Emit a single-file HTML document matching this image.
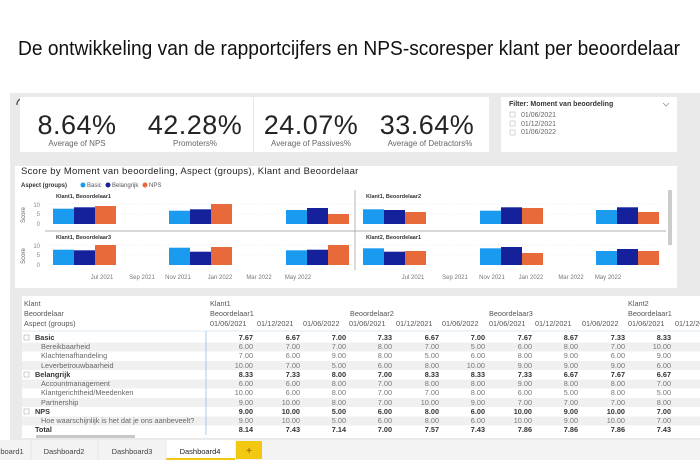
<!DOCTYPE html>
<html><head><meta charset="utf-8"><style>
html,body{margin:0;padding:0;background:#fff;}
svg{display:block;font-family:"Liberation Sans",sans-serif;}
</style></head><body>
<svg width="700" height="470" viewBox="0 0 700 470" xmlns="http://www.w3.org/2000/svg">
<rect width="700" height="470" fill="#fff"/>
<text x="18" y="55" font-size="20" fill="#111" textLength="662" lengthAdjust="spacingAndGlyphs">De ontwikkeling van de rapportcijfers en NPS-scoresper klant per beoordelaar</text>
<!-- dashboard bg -->
<rect x="10" y="93" width="690" height="348" fill="#eaeaea"/>
<path d="M17 105 a6 6 0 0 1 10 -5" stroke="#444" stroke-width="1.2" fill="none"/>
<!-- KPI cards -->
<rect x="20" y="97" width="233" height="55" fill="#fff"/>
<rect x="254" y="97" width="235" height="55" fill="#fff"/>
<line x1="253.5" y1="97" x2="253.5" y2="152" stroke="#e6e6e6"/>
<g font-size="27" fill="#252423" text-anchor="middle" letter-spacing="0.5">
<text x="77" y="134">8.64%</text><text x="195" y="134">42.28%</text><text x="311" y="134">24.07%</text><text x="427" y="134">33.64%</text></g>
<g font-size="8" fill="#666" text-anchor="middle">
<text x="77" y="146">Average of NPS</text><text x="195" y="146">Promoters%</text><text x="311" y="146">Average of Passives%</text><text x="430" y="146">Average of Detractors%</text></g>
<!-- filter -->
<rect x="501" y="97" width="176" height="55" fill="#fff"/>
<text x="509" y="106" font-size="7" font-weight="bold" fill="#333">Filter: Moment van beoordeling</text>
<path d="M663 103 l3 3 l3 -3" stroke="#888" fill="none" stroke-width="0.7"/>
<g font-size="7" fill="#666"><rect x="510" y="112" width="5" height="5" fill="none" stroke="#bbb" stroke-width="0.6"/><text x="521" y="117">01/06/2021</text>
<rect x="510" y="121" width="5" height="5" fill="none" stroke="#bbb" stroke-width="0.6"/><text x="521" y="126">01/12/2021</text>
<rect x="510" y="130" width="5" height="5" fill="none" stroke="#bbb" stroke-width="0.6"/><text x="521" y="134">01/06/2022</text></g>
<!-- chart panel -->
<rect x="15" y="166" width="662" height="122" fill="#fff"/>
<text x="21" y="174" font-size="9.5" fill="#252423" letter-spacing="0.3">Score by Moment van beoordeling, Aspect (groups), Klant and Beoordelaar</text>
<text x="21" y="187" font-size="6" font-weight="bold" fill="#333">Aspect (groups)</text>
<circle cx="83" cy="185" r="2.5" fill="#1a9bf0"/><text x="87" y="187" font-size="6" fill="#555">Basic</text>
<circle cx="108" cy="185" r="2.5" fill="#14219a"/><text x="112" y="187" font-size="6" fill="#555">Belangrijk</text>
<circle cx="145" cy="185" r="2.5" fill="#e8693a"/><text x="149" y="187" font-size="6" fill="#555">NPS</text>
<g font-size="5.5" font-weight="bold" fill="#333">
<text x="56" y="198">Klant1, Beoordelaar1</text><text x="366" y="198">Klant1, Beoordelaar2</text>
<text x="56" y="239">Klant1, Beoordelaar3</text><text x="366" y="239">Klant2, Beoordelaar1</text></g>
<g font-size="6" fill="#888" text-anchor="end">
<text x="40" y="207">10</text><text x="40" y="216">5</text><text x="40" y="226">0</text>
<text x="40" y="248">10</text><text x="40" y="257">5</text><text x="40" y="267">0</text></g>
<text transform="translate(25,215) rotate(-90)" font-size="6" fill="#666" text-anchor="middle">Score</text>
<text transform="translate(25,256) rotate(-90)" font-size="6" fill="#666" text-anchor="middle">Score</text>
<g stroke="#ddd" stroke-width="0.6" stroke-dasharray="1,2">
<line x1="45" y1="204" x2="660" y2="204"/><line x1="45" y1="214" x2="660" y2="214"/>
<line x1="45" y1="245" x2="660" y2="245"/><line x1="45" y1="255" x2="660" y2="255"/></g>
<line x1="45" y1="231" x2="666" y2="231" stroke="#999" stroke-width="0.7"/>
<line x1="355" y1="190" x2="355" y2="270" stroke="#999" stroke-width="0.7"/>
<rect x="668" y="190" width="4" height="55" fill="#ccc"/>
<g fill="#1a9bf0">
<rect x="53" y="208.7" width="21" height="15.3"/><rect x="169" y="210.7" width="21" height="13.3"/><rect x="286" y="210" width="21" height="14"/>
<rect x="363" y="209.3" width="21" height="14.7"/><rect x="480" y="210.7" width="21" height="13.3"/><rect x="596" y="210" width="21" height="14"/>
<rect x="53" y="249.7" width="21" height="15.3"/><rect x="169" y="247.7" width="21" height="17.3"/><rect x="286" y="250.3" width="21" height="14.7"/>
<rect x="363" y="248.3" width="21" height="16.7"/><rect x="480" y="248.3" width="21" height="16.7"/><rect x="596" y="251" width="21" height="14"/></g>
<g fill="#14219a">
<rect x="74" y="207.3" width="21" height="16.7"/><rect x="190" y="209.3" width="21" height="14.7"/><rect x="307" y="208" width="21" height="16"/>
<rect x="384" y="210" width="21" height="14"/><rect x="501" y="207.3" width="21" height="16.7"/><rect x="617" y="207.3" width="21" height="16.7"/>
<rect x="74" y="250.3" width="21" height="14.7"/><rect x="190" y="251.7" width="21" height="13.3"/><rect x="307" y="249.7" width="21" height="15.3"/>
<rect x="384" y="251.7" width="21" height="13.3"/><rect x="501" y="247" width="21" height="18"/><rect x="617" y="249" width="21" height="16"/></g>
<g fill="#e8693a">
<rect x="95" y="206" width="21" height="18"/><rect x="211" y="204" width="21" height="20"/><rect x="328" y="214" width="21" height="10"/>
<rect x="405" y="212" width="21" height="12"/><rect x="522" y="208" width="21" height="16"/><rect x="638" y="212" width="21" height="12"/>
<rect x="95" y="245" width="21" height="20"/><rect x="211" y="247" width="21" height="18"/><rect x="328" y="245" width="21" height="20"/>
<rect x="405" y="251" width="21" height="14"/><rect x="522" y="253" width="21" height="12"/><rect x="638" y="251" width="21" height="14"/></g>
<g font-size="6" fill="#777" text-anchor="middle">
<text x="102" y="279">Jul 2021</text><text x="142" y="279">Sep 2021</text><text x="178" y="279">Nov 2021</text><text x="220" y="279">Jan 2022</text><text x="259" y="279">Mar 2022</text><text x="298" y="279">May 2022</text>
<text x="413" y="279">Jul 2021</text><text x="455" y="279">Sep 2021</text><text x="492" y="279">Nov 2021</text><text x="531" y="279">Jan 2022</text><text x="571" y="279">Mar 2022</text><text x="608" y="279">May 2022</text></g>
<!-- table panel -->
<rect x="22" y="296" width="678" height="142" fill="#fff"/>
<g fill="#f0f0f0">
<rect x="22" y="342.5" width="678" height="9"/><rect x="22" y="361" width="678" height="9"/><rect x="22" y="379.5" width="678" height="9"/><rect x="22" y="398" width="678" height="9"/><rect x="22" y="416.5" width="678" height="9"/></g>
<line x1="22" y1="331" x2="700" y2="331" stroke="#cfe3f3" stroke-width="0.8"/>
<line x1="206" y1="331" x2="206" y2="435" stroke="#8fc1ea" stroke-width="0.8"/>
<g font-size="7.3" fill="#555">
<text x="24" y="306">Klant</text><text x="24" y="316">Beoordelaar</text><text x="24" y="326">Aspect (groups)</text>
<text x="210" y="306">Klant1</text><text x="628" y="306">Klant2</text>
<text x="210" y="316">Beoordelaar1</text><text x="350" y="316">Beoordelaar2</text><text x="489" y="316">Beoordelaar3</text><text x="628" y="316">Beoordelaar1</text>
<text y="326"><tspan x="210">01/06/2021</tspan><tspan x="257">01/12/2021</tspan><tspan x="303">01/06/2022</tspan><tspan x="349">01/06/2021</tspan><tspan x="396">01/12/2021</tspan><tspan x="442">01/06/2022</tspan><tspan x="489">01/06/2021</tspan><tspan x="535">01/12/2021</tspan><tspan x="582">01/06/2022</tspan><tspan x="628">01/06/2021</tspan><tspan x="675">01/12/2021</tspan></text></g>
<g font-size="7.3" fill="#333">
<g font-weight="bold"><text x="35" y="340">Basic</text><text x="35" y="377">Belangrijk</text><text x="35" y="414">NPS</text><text x="35" y="432">Total</text></g>
<g fill="#666"><text x="41" y="349">Bereikbaarheid</text><text x="41" y="358">Klachtenafhandeling</text><text x="41" y="368">Leverbetrouwbaarheid</text>
<text x="41" y="386">Accountmanagement</text><text x="41" y="395">Klantgerichtheid/Meedenken</text><text x="41" y="405">Partnership</text><text x="41" y="423">Hoe waarschijnlijk is het dat je ons aanbeveelt?</text></g>
</g>
<g fill="none" stroke="#999" stroke-width="0.5"><rect x="24" y="335" width="5" height="5"/><rect x="24" y="372" width="5" height="5"/><rect x="24" y="409" width="5" height="5"/></g>
<g font-size="7.3" text-anchor="end">
<g font-weight="bold" fill="#333">
<text y="340"><tspan x="253">7.67</tspan><tspan x="300">6.67</tspan><tspan x="346">7.00</tspan><tspan x="392">7.33</tspan><tspan x="439">6.67</tspan><tspan x="485">7.00</tspan><tspan x="532">7.67</tspan><tspan x="578">8.67</tspan><tspan x="625">7.33</tspan><tspan x="671">8.33</tspan></text>
<text y="377"><tspan x="253">8.33</tspan><tspan x="300">7.33</tspan><tspan x="346">8.00</tspan><tspan x="392">7.00</tspan><tspan x="439">8.33</tspan><tspan x="485">8.33</tspan><tspan x="532">7.33</tspan><tspan x="578">6.67</tspan><tspan x="625">7.67</tspan><tspan x="671">6.67</tspan></text>
<text y="414"><tspan x="253">9.00</tspan><tspan x="300">10.00</tspan><tspan x="346">5.00</tspan><tspan x="392">6.00</tspan><tspan x="439">8.00</tspan><tspan x="485">6.00</tspan><tspan x="532">10.00</tspan><tspan x="578">9.00</tspan><tspan x="625">10.00</tspan><tspan x="671">7.00</tspan></text>
<text y="432"><tspan x="253">8.14</tspan><tspan x="300">7.43</tspan><tspan x="346">7.14</tspan><tspan x="392">7.00</tspan><tspan x="439">7.57</tspan><tspan x="485">7.43</tspan><tspan x="532">7.86</tspan><tspan x="578">7.86</tspan><tspan x="625">7.86</tspan><tspan x="671">7.43</tspan></text></g>
<g fill="#777">
<text y="349"><tspan x="253">6.00</tspan><tspan x="300">7.00</tspan><tspan x="346">7.00</tspan><tspan x="392">8.00</tspan><tspan x="439">7.00</tspan><tspan x="485">5.00</tspan><tspan x="532">6.00</tspan><tspan x="578">8.00</tspan><tspan x="625">7.00</tspan><tspan x="671">10.00</tspan></text>
<text y="358"><tspan x="253">7.00</tspan><tspan x="300">6.00</tspan><tspan x="346">9.00</tspan><tspan x="392">8.00</tspan><tspan x="439">5.00</tspan><tspan x="485">6.00</tspan><tspan x="532">8.00</tspan><tspan x="578">9.00</tspan><tspan x="625">6.00</tspan><tspan x="671">9.00</tspan></text>
<text y="368"><tspan x="253">10.00</tspan><tspan x="300">7.00</tspan><tspan x="346">5.00</tspan><tspan x="392">6.00</tspan><tspan x="439">8.00</tspan><tspan x="485">10.00</tspan><tspan x="532">9.00</tspan><tspan x="578">9.00</tspan><tspan x="625">9.00</tspan><tspan x="671">6.00</tspan><tspan x="718">10.00</tspan></text>
<text y="386"><tspan x="253">6.00</tspan><tspan x="300">6.00</tspan><tspan x="346">8.00</tspan><tspan x="392">7.00</tspan><tspan x="439">8.00</tspan><tspan x="485">8.00</tspan><tspan x="532">9.00</tspan><tspan x="578">8.00</tspan><tspan x="625">8.00</tspan><tspan x="671">7.00</tspan></text>
<text y="395"><tspan x="253">10.00</tspan><tspan x="300">6.00</tspan><tspan x="346">8.00</tspan><tspan x="392">7.00</tspan><tspan x="439">7.00</tspan><tspan x="485">8.00</tspan><tspan x="532">6.00</tspan><tspan x="578">5.00</tspan><tspan x="625">8.00</tspan><tspan x="671">5.00</tspan><tspan x="718">10.00</tspan></text>
<text y="405"><tspan x="253">9.00</tspan><tspan x="300">10.00</tspan><tspan x="346">8.00</tspan><tspan x="392">7.00</tspan><tspan x="439">10.00</tspan><tspan x="485">9.00</tspan><tspan x="532">7.00</tspan><tspan x="578">7.00</tspan><tspan x="625">7.00</tspan><tspan x="671">8.00</tspan></text>
<text y="423"><tspan x="253">9.00</tspan><tspan x="300">10.00</tspan><tspan x="346">5.00</tspan><tspan x="392">6.00</tspan><tspan x="439">8.00</tspan><tspan x="485">6.00</tspan><tspan x="532">10.00</tspan><tspan x="578">9.00</tspan><tspan x="625">10.00</tspan><tspan x="671">7.00</tspan></text></g>
</g>
<rect x="36" y="435" width="99" height="3" fill="#c8c8c8"/>
<!-- tabs -->
<rect x="0" y="440" width="700" height="20" fill="#f3f3f3"/>
<rect x="166" y="440" width="69" height="20" fill="#fff"/>
<rect x="166" y="458" width="69" height="2" fill="#f2c811"/>
<rect x="236" y="441" width="26" height="18" fill="#f2c811"/>
<text x="249" y="454" font-size="10" fill="#7a5c00" text-anchor="middle">+</text>
<g stroke="#ddd" stroke-width="0.7"><line x1="31" y1="440" x2="31" y2="460"/><line x1="98" y1="440" x2="98" y2="460"/><line x1="166" y1="440" x2="166" y2="460"/></g>
<g font-size="7.5" fill="#444" text-anchor="middle">
<text x="12" y="454">board1</text><text x="64" y="454">Dashboard2</text><text x="132" y="454">Dashboard3</text><text x="200" y="454" fill="#222">Dashboard4</text></g>
</svg>
</body></html>
